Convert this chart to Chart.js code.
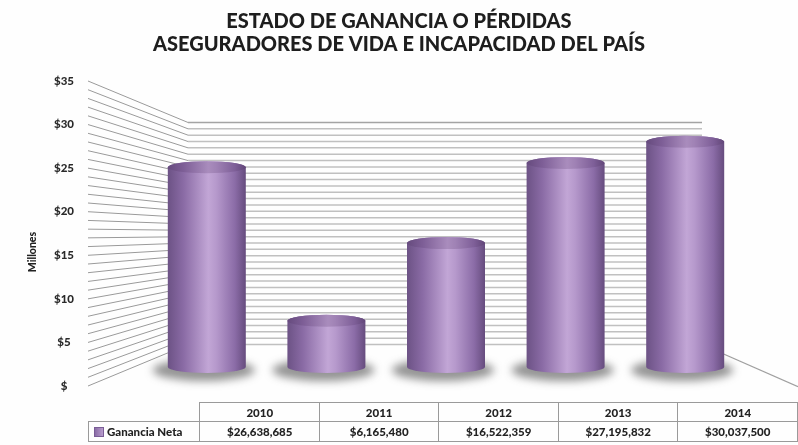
<!DOCTYPE html>
<html>
<head>
<meta charset="utf-8">
<script src="https://cdn.jsdelivr.net/npm/chart.js@4"></script>
<style>
  body { margin: 0; background: #fefefe; }
  #wrap { position: relative; width: 798px; height: 445px; overflow: hidden; }
  #chart { position: absolute; left: 0; top: 0; }
  #dataTable {
    position: absolute; left: 88px; top: 402px;
    border-collapse: collapse; table-layout: fixed;
    font: 900 11.5px Lato, "DejaVu Sans", sans-serif; color: #222;
  }
  #dataTable td { border: 1px solid #9a9a9a; text-align: center; padding: 0; height: 18px; }
  #dataTable td.blank { border: none; border-bottom: 1px solid #9a9a9a; }
  #dataTable td.serie { text-align: left; padding-left: 5px; }
  .swatch {
    display: inline-block; width: 8px; height: 8px; margin-right: 3px; vertical-align: -1px;
    background: linear-gradient(90deg, #8a6ca6, #b89ccd); border: 1px solid #7a5d96;
  }
</style>
</head>
<body>
<div id="wrap">
  <canvas id="chart" width="798" height="445"></canvas>
  <table id="dataTable"></table>
</div>
<script>
// Ganancia neta por año (en dólares)
const years = ["2010", "2011", "2012", "2013", "2014"];
const gananciaNeta = [26638685, 6165480, 16522359, 27195832, 30037500];
const serieLabel = "Ganancia Neta";
const yTicks = [0, 5, 10, 15, 20, 25, 30, 35];

const titleLines = ["ESTADO DE GANANCIA O PÉRDIDAS", "ASEGURADORES DE VIDA E INCAPACIDAD DEL PAÍS"];
const font = "Lato, 'DejaVu Sans', sans-serif";

// table under the chart
function buildTable() {
  const table = document.getElementById("dataTable");
  const widths = [112, 120, 120, 120, 120, 120];
  let html = "<colgroup>" + widths.map(w => `<col style="width:${w}px">`).join("") + "</colgroup>";
  html += `<tr><td class="blank"></td>` + years.map(y => `<td>${y}</td>`).join("") + "</tr>";
  html += `<tr style="height:20px"><td class="serie"><span class="swatch"></span>${serieLabel}</td>` +
    gananciaNeta.map(v => `<td>$${v.toLocaleString("en-US")}</td>`).join("") + "</tr>";
  table.innerHTML = html;
}
buildTable();

// back wall + side wall with the dense grid, drawn in perspective
const walls = {
  id: "walls",
  beforeDatasetsDraw(chart) {
    const { ctx, chartArea: a } = chart;
    const y = chart.scales.y;
    const frontX = a.left - 59, backX = a.left + 41, rightX = a.right - 43;
    const mid = (a.top + a.bottom) / 2;
    const depth = 0.728;
    const back = v => mid + (y.getPixelForValue(v) - mid) * depth;

    ctx.save();
    for (let v = 0; v <= 35; v++) {
      // side wall
      ctx.strokeStyle = "#9a9a9a";
      ctx.lineWidth = 1;
      ctx.beginPath();
      ctx.moveTo(frontX, y.getPixelForValue(v));
      ctx.lineTo(backX, back(v));
      ctx.stroke();
      // back wall
      ctx.strokeStyle = v === 35 ? "#a4a4a4" : "#c0c0c0";
      ctx.lineWidth = 1.5;
      ctx.beginPath();
      ctx.moveTo(backX, back(v));
      ctx.lineTo(rightX, back(v));
      ctx.stroke();
    }
    // right floor edge
    ctx.strokeStyle = "#a0a0a0";
    ctx.lineWidth = 1.2;
    ctx.beginPath();
    ctx.moveTo(rightX, back(0));
    ctx.lineTo(chart.width, back(0) + (chart.width - rightX) * 0.44);
    ctx.stroke();
    ctx.restore();
  }
};

// cylinders on top of the bar elements
const cylinders = {
  id: "cylinders",
  afterDatasetsDraw(chart) {
    const { ctx } = chart;
    const ry = 6;
    chart.getDatasetMeta(0).data.forEach(bar => {
      const { x, y, base, width } = bar.getProps(["x", "y", "base", "width"], true);
      const rx = width / 2;

      // shadow
      ctx.save();
      ctx.filter = "blur(4px)";
      ctx.fillStyle = "rgba(60,60,60,0.55)";
      ctx.beginPath();
      ctx.ellipse(x - 3, base + 3, rx + 12, ry + 5, 0, 0, Math.PI * 2);
      ctx.fill();
      ctx.restore();

      const g = ctx.createLinearGradient(x - rx, 0, x + rx, 0);
      g.addColorStop(0, "#6c5285");
      g.addColorStop(0.2, "#8a6ba5");
      g.addColorStop(0.52, "#c2a6d6");
      g.addColorStop(0.62, "#b699cc");
      g.addColorStop(0.86, "#8b6ca7");
      g.addColorStop(1, "#664c7e");

      ctx.save();
      ctx.fillStyle = g;
      ctx.beginPath();
      ctx.moveTo(x - rx, y);
      ctx.lineTo(x - rx, base);
      ctx.ellipse(x, base, rx, ry, 0, Math.PI, 0, true);
      ctx.lineTo(x + rx, y);
      ctx.ellipse(x, y, rx, ry, 0, 0, Math.PI, true);
      ctx.closePath();
      ctx.fill();

      // top cap
      ctx.beginPath();
      ctx.ellipse(x, y, rx, ry, 0, 0, Math.PI * 2);
      ctx.fill();
      ctx.fillStyle = "rgba(80,50,100,0.22)";
      ctx.fill();
      ctx.restore();
    });
  },
  afterDraw(chart) {
    const { ctx } = chart;
    ctx.save();
    ctx.translate(33, 252);
    ctx.rotate(-Math.PI / 2);
    ctx.font = `900 10.5px ${font}`;
    ctx.fillStyle = "#222";
    ctx.textAlign = "center";
    ctx.textBaseline = "middle";
    ctx.fillText("Millones", 0, 0);
    ctx.restore();
  }
};

const ctx = document.getElementById("chart").getContext("2d");
const chart = new Chart(ctx, {
  type: "bar",
  data: {
    labels: years,
    datasets: [{
      label: serieLabel,
      data: gananciaNeta.map(v => v / 1e6),
      yAxisID: "yb",
      backgroundColor: "rgba(0,0,0,0)",
      barThickness: 78
    }]
  },
  options: {
    responsive: false,
    animation: false,
    layout: { padding: { left: 53, right: 53, bottom: 59, top: 0 } },
    plugins: {
      legend: { display: false },
      tooltip: { enabled: false },
      title: {
        display: true,
        text: titleLines,
        color: "#1e1e1e",
        font: { family: font, size: 20, weight: "900", lineHeight: 1.15 },
        padding: { top: 10, bottom: 25 }
      }
    },
    scales: {
      x: { display: false },
      y: {
        min: 0,
        max: 35,
        afterFit(scale) {
          // the wide tick padding should not eat vertical space
          scale.width = 94;
          scale.paddingTop = 6;
          scale.paddingBottom = 6;
        },
        afterBuildTicks(scale) { scale.ticks = yTicks.map(v => ({ value: v })); },
        grid: { display: false, drawTicks: false },
        border: { display: false },
        ticks: {
          padding: 73,
          crossAlign: "center",
          color: "#2a2a2a",
          font: { family: font, size: 11.5, weight: "900" },
          callback: v => (v === 0 ? "$" : "$" + v)
        }
      },
      // bars stand on the floor, in front of the back wall
      yb: { display: false, min: -2.533, max: 38.133 }
    }
  },
  plugins: [walls, cylinders]
});
</script>
</body>
</html>
